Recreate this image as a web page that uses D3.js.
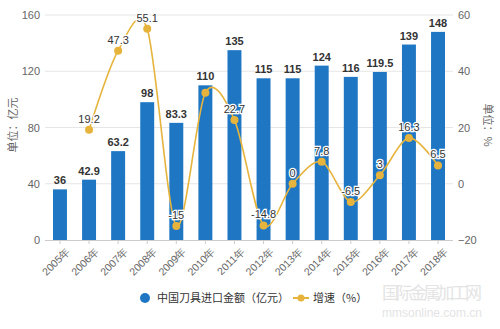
<!DOCTYPE html>
<html><head><meta charset="utf-8">
<script src="https://cdn.jsdelivr.net/npm/d3@7"></script>
<style>body{margin:0;background:#fff}svg{display:block}text{font-family:"Noto Sans CJK SC","Liberation Sans",Arial,sans-serif}</style>
</head><body><svg id="c" width="500" height="329"></svg>
<script>
const years = ["2005年","2006年","2007年","2008年","2009年","2010年","2011年","2012年","2013年","2014年","2015年","2016年","2017年","2018年"];
const amounts = [36,42.9,63.2,98,83.3,110,135,115,115,124,116,119.5,139,148];
const growth = [null,19.2,47.3,55.1,-15,32.4,22.7,-14.8,0,7.8,-6.5,3,16.3,6.5];
const growthLabels = [null,"19.2","47.3","55.1","-15",null,"22.7","-14.8","0","7.8","-6.5","3","16.3","6.5"];
const leftTicks = [0,40,80,120,160];
const rightTicks = [-20,0,20,40,60];

const svg = d3.select("#c");
const barColor = "#1f77c4", lineColor = "#e6b43c";
const x = d3.scaleBand().domain(years).range([53,445]).paddingInner(0.52).paddingOuter(0);
const yL = d3.scaleLinear().domain([0,160]).range([240,15]);
const yR = d3.scaleLinear().domain([-20,60]).range([240,15]);

// grid
svg.append("g").selectAll("line").data(leftTicks.slice(1)).join("line")
  .attr("x1",45).attr("x2",453).attr("y1",d=>yL(d)).attr("y2",d=>yL(d))
  .attr("stroke","#e6e6e6").attr("stroke-width",1);

// left axis
const gL = svg.append("g").attr("transform","translate(45,0)")
  .call(d3.axisLeft(yL).tickValues(leftTicks).tickSize(0).tickPadding(5));
gL.select(".domain").remove();
gL.selectAll("text").attr("fill","#666").style("font-size","11px").style("font-family","Liberation Sans, Arial, sans-serif");

// right axis
const gR = svg.append("g").attr("transform","translate(453,0)")
  .call(d3.axisRight(yR).tickValues(rightTicks).tickSize(0).tickPadding(5));
gR.select(".domain").remove();
gR.selectAll("text").attr("fill","#666").style("font-size","11px").style("font-family","Liberation Sans, Arial, sans-serif");

// bars
svg.append("g").selectAll("rect").data(amounts).join("rect")
  .attr("x",(d,i)=>x(years[i])).attr("width",x.bandwidth())
  .attr("y",d=>yL(d)).attr("height",d=>yL(0)-yL(d)).attr("fill",barColor);

// x axis
const gX = svg.append("g").attr("transform","translate(0,240)")
  .call(d3.axisBottom(x).tickSize(4).tickSizeOuter(0).tickPadding(4));
gX.select(".domain").attr("d","M45,0.5H453").attr("stroke","#ccc");
gX.selectAll(".tick line").attr("stroke","#ccc");
gX.selectAll("text").attr("fill","#666").style("font-size","10.5px").style("font-family","Liberation Sans, Arial, sans-serif")
  .attr("text-anchor","end").attr("dy","0.3em").attr("transform","translate(3,4) rotate(-45)");

// bar labels
svg.append("g").selectAll("text").data(amounts).join("text")
  .attr("x",(d,i)=>x(years[i])+x.bandwidth()/2).attr("y",d=>yL(d)-5)
  .attr("text-anchor","middle").attr("fill","#333").style("font-size","11px").style("font-weight","bold")
  .style("font-family","Liberation Sans, Arial, sans-serif")
  .text(d=>d);

// line
const pts = growth.map((g,i)=>g==null?null:[x(years[i])+x.bandwidth()/2, yR(g), i]).filter(p=>p);
svg.append("path").attr("d",d3.line().curve(d3.curveCardinal.tension(0.1))(pts.map(p=>[p[0],p[1]])))
  .attr("fill","none").attr("stroke",lineColor).attr("stroke-width",1.6);
svg.append("g").selectAll("circle").data(pts).join("circle")
  .attr("cx",p=>p[0]).attr("cy",p=>p[1]).attr("r",4).attr("fill",lineColor);
svg.append("g").selectAll("text").data(pts.filter(p=>growthLabels[p[2]]!=null)).join("text")
  .attr("x",p=>p[0]).attr("y",p=>p[1]-7).attr("text-anchor","middle")
  .attr("fill","#333").attr("stroke","#fff").attr("stroke-width",2.5).attr("paint-order","stroke")
  .style("font-size","11px").style("font-family","Liberation Sans, Arial, sans-serif")
  .text(p=>growthLabels[p[2]]);

// axis titles
svg.append("text").attr("transform","translate(17,125) rotate(-90)").attr("text-anchor","middle")
  .attr("fill","#666").style("font-size","11px").text("单位：亿元");
svg.append("text").attr("transform","translate(484,125) rotate(90)").attr("text-anchor","middle")
  .attr("fill","#666").style("font-size","11px").text("单位：%");

// legend
const lg = svg.append("g");
lg.append("circle").attr("cx",145).attr("cy",298).attr("r",5).attr("fill",barColor);
lg.append("text").attr("x",157).attr("y",302).attr("fill","#333").style("font-size","11px").text("中国刀具进口金额（亿元）");
lg.append("line").attr("x1",293).attr("x2",309).attr("y1",298).attr("y2",298).attr("stroke",lineColor).attr("stroke-width",2);
lg.append("circle").attr("cx",301).attr("cy",298).attr("r",3.5).attr("fill",lineColor);
lg.append("text").attr("x",313).attr("y",302).attr("fill","#333").style("font-size","11px").text("增速（%）");

// watermark
svg.append("text").attr("x",382).attr("y",299).attr("fill","#e4e4e4").style("font-size","17px").attr("textLength",100).text("国际金属加工网");
svg.append("text").attr("x",382).attr("y",317).attr("fill","#e4e4e4").style("font-size","12px").style("font-family","Liberation Sans, Arial, sans-serif").attr("textLength",100).text("mmsonline.com.cn");
</script></body></html>
